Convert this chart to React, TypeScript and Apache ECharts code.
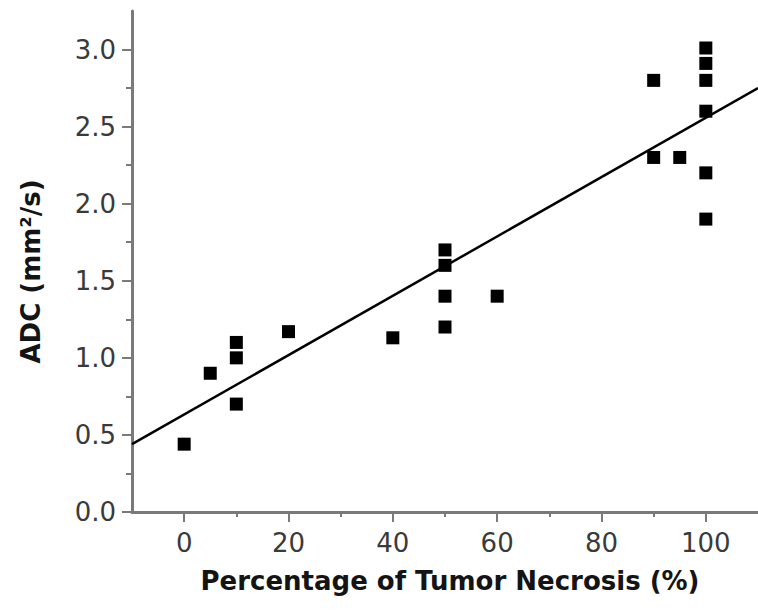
import React, { useEffect, useRef } from "react";
import * as echarts from "echarts";

const necrosisPct = [0, 5, 10, 10, 10, 20, 40, 50, 50, 50, 50, 60, 90, 90, 95, 100, 100, 100, 100, 100, 100];
const adcValues = [0.44, 0.9, 1.1, 1.0, 0.7, 1.17, 1.13, 1.7, 1.6, 1.4, 1.2, 1.4, 2.8, 2.3, 2.3, 3.01, 2.91, 2.8, 2.6, 2.2, 1.9];
const fitX = [-10, 110];
const fitY = [0.44, 2.75];
const xMajorTicks = [0, 20, 40, 60, 80, 100];
const xMinorTicks = [10, 30, 50, 70, 90];
const yMajorTicks = [0, 0.5, 1.0, 1.5, 2.0, 2.5, 3.0];
const yMinorTicks = [0.25, 0.75, 1.25, 1.75, 2.25, 2.75];

const FONT = "DejaVu Sans";
const AXIS_COLOR = "#7a7a7a";

export default function App() {
  const ref = useRef<HTMLDivElement>(null);
  useEffect(() => {
    if (!ref.current) return;
    const chart = echarts.init(ref.current, null, { renderer: "svg" });
    const points = necrosisPct.map((x, i) => [x, adcValues[i]]);
    const fit = fitX.map((x, i) => [x, fitY[i]]);
    const baseX = { type: "value", min: -10, max: 110, splitLine: { show: false } };
    const baseY = { type: "value", min: 0, max: 3.25, splitLine: { show: false } };
    chart.setOption({
      animation: false,
      backgroundColor: "#ffffff",
      grid: { left: 132, top: 11, right: -8, bottom: 100, containLabel: false },
      xAxis: [
        {
          ...baseX,
          position: "bottom",
          axisLine: { onZero: false, lineStyle: { color: AXIS_COLOR, width: 3 } },
          axisTick: { customValues: xMajorTicks, length: 10, lineStyle: { color: AXIS_COLOR, width: 2 } },
          axisLabel: {
            customValues: xMajorTicks,
            margin: 18,
            fontFamily: FONT,
            fontSize: 26,
            color: "#3a3a3a",
          },
          name: "Percentage of Tumor Necrosis (%)",
          nameLocation: "middle",
          nameGap: 56,
          nameTextStyle: { fontFamily: FONT, fontSize: 26, fontWeight: "bold", color: "#141414", padding: [0, 0, 0, 10] },
        },
        {
          ...baseX,
          position: "bottom",
          axisLine: { show: false, onZero: false },
          axisTick: { customValues: xMinorTicks, length: 5, lineStyle: { color: AXIS_COLOR, width: 2 } },
          axisLabel: { show: false },
        },
      ],
      yAxis: [
        {
          ...baseY,
          position: "left",
          axisLine: { onZero: false, lineStyle: { color: AXIS_COLOR, width: 3 } },
          axisTick: { customValues: yMajorTicks, length: 10, lineStyle: { color: AXIS_COLOR, width: 2 } },
          axisLabel: {
            customValues: yMajorTicks,
            margin: 16,
            fontFamily: FONT,
            fontSize: 26,
            color: "#3a3a3a",
            formatter: (v: number) => v.toFixed(1),
          },
          name: "ADC (mm²/s)",
          nameLocation: "middle",
          nameGap: 88,
          nameTextStyle: { fontFamily: FONT, fontSize: 26, fontWeight: "bold", color: "#141414", padding: [0, 20, 0, 0] },
        },
        {
          ...baseY,
          position: "left",
          axisLine: { show: false, onZero: false },
          axisTick: { customValues: yMinorTicks, length: 6, lineStyle: { color: AXIS_COLOR, width: 2 } },
          axisLabel: { show: false },
        },
      ],
      series: [
        {
          type: "line",
          data: fit,
          showSymbol: false,
          symbol: "none",
          lineStyle: { color: "#000000", width: 2.5 },
          clip: true,
          silent: true,
        },
        {
          type: "scatter",
          data: points,
          symbol: "rect",
          symbolSize: 13,
          itemStyle: { color: "#000000", opacity: 1 },
        },
      ],
    });
    return () => chart.dispose();
  }, []);
  return (
    <div
      ref={ref}
      style={{ position: "fixed", left: 0, top: 0, width: 758, height: 612 }}
    />
  );
}
